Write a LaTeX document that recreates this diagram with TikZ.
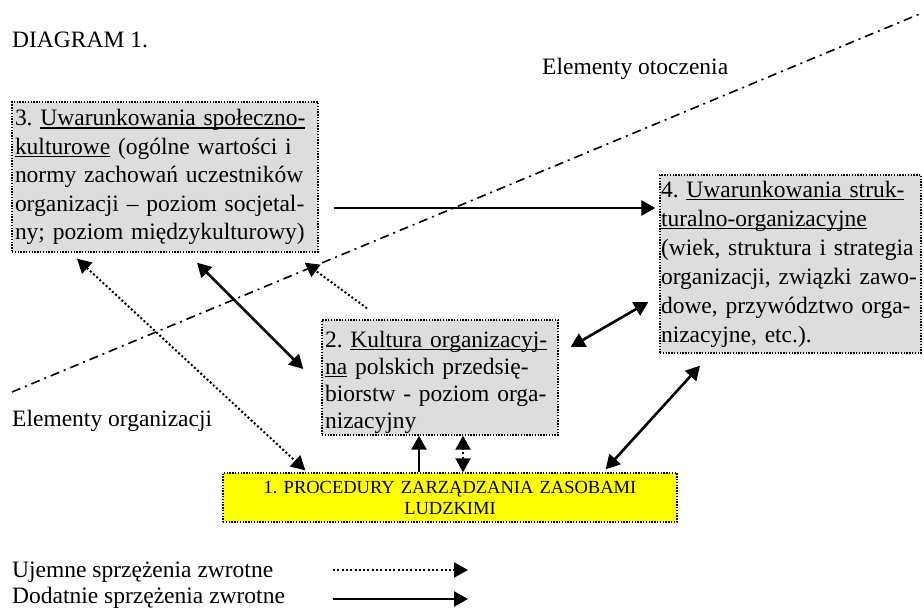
\documentclass[tikz,border=0pt]{standalone}
\usepackage{fontspec}
\setmainfont{Liberation Serif}
\usetikzlibrary{arrows.meta}
\definecolor{szary}{HTML}{DDDDDD}
\definecolor{zolty}{HTML}{FFFF00}
\newcommand{\podkr}[1]{\leavevmode\setbox0\hbox{#1}\rlap{\rule[-3pt]{\wd0}{1.3pt}}\box0\relax}
\frenchspacing
\begin{document}
\begin{tikzpicture}[x=1pt, y=-1pt,
	pole/.style={draw=black, line width=1.4pt, dash pattern=on 1.4pt off 1.4pt,
		fill=szary, inner xsep=3pt, inner ysep=0pt, align=left,
		font=\fontsize{23.5}{28.5}\selectfont},
	tekst/.style={anchor=base west, inner sep=0pt, font=\fontsize{23.5}{28}\selectfont},
	dodatnie/.style={line width=2.6pt, -{Triangle[length=14pt, width=15pt]}},
	dodatnie2/.style={line width=2.6pt, {Triangle[length=14pt, width=15pt]}-{Triangle[length=14pt, width=15pt]}},
	ujemne/.style={line width=2pt, dash pattern=on 2pt off 2.3pt, -{Triangle[length=14pt, width=15pt]}},
	ujemne2/.style={line width=2pt, dash pattern=on 2pt off 2.3pt, {Triangle[length=14pt, width=15pt]}-{Triangle[length=14pt, width=15pt]}}]
	\useasboundingbox (0,0) rectangle (924,609);
	% Granica otoczenie / organizacja
	\coordinate (gr1) at (12,392);
	\coordinate (gr2) at (922,13);
	\draw[line width=1.6pt, dash pattern=on 9pt off 5pt on 2pt off 5pt] (gr1) -- (gr2);
	% Napisy
	\node[tekst] (tytul) at (12,48) {DIAGRAM 1.};
	\node[tekst] (otocz) at (542,75) {Elementy otoczenia};
	\node[tekst] (organ) at (12,427) {Elementy organizacji};
	% Pola
	\node[pole, text width=300pt, minimum width=306pt, minimum height=150pt] (uwar3) at (165,177)
		{3. \podkr{Uwarunkowania społeczno-}\\\podkr{kulturowe} (ogólne wartości i\\normy zachowań uczestników\\organizacji – poziom socjetal-\\ny; poziom międzykulturowy)};
	\node[pole, inner xsep=1pt, text width=259pt, minimum width=261pt, minimum height=178pt,
		font=\fontsize{23.5}{29}\selectfont] (uwar4) at (790.5,264)
		{4. \podkr{Uwarunkowania struk-}\\\podkr{turalno-organizacyjne}\\(wiek, struktura i strategia\\organizacji, związki zawo-\\dowe, przywództwo orga-\\nizacyjne, etc.).};
	\node[pole, text width=230pt, minimum width=236pt, minimum height=115pt,
		font=\fontsize{23.5}{27}\selectfont] (kultura) at (440,377.5)
		{\rule{0pt}{26pt}2. \podkr{Kultura organizacyj-}\\\podkr{na} polskich przedsię-\\biorstw - poziom orga-\\nizacyjny};
	\node[pole, fill=zolty, text width=448pt, minimum width=454pt, minimum height=49pt,
		align=center, font=\fontsize{18.5}{21}\selectfont] (procedury) at (450,497.5)
		{1. PROCEDURY ZARZĄDZANIA ZASOBAMI\\LUDZKIMI};
	% Sprzezenia
	\draw[dodatnie] ([xshift=15pt, yshift=-31pt]uwar3.east) -- ([xshift=-4pt, yshift=56pt]uwar4.west);
	\draw[dodatnie2] ([xshift=32pt, yshift=-10pt]uwar3.south) -- ([xshift=-18pt, yshift=8.5pt]kultura.west);
	\draw[ujemne] ([xshift=-73pt, yshift=11pt]kultura.north) -- ([xshift=-14pt, yshift=-10pt]uwar3.south east);
	\draw[ujemne2] ([xshift=-88pt, yshift=-6pt]uwar3.south) -- ([xshift=83pt, yshift=2pt]procedury.north west);
	\draw[dodatnie] ([xshift=-31pt]procedury.north) -- ([xshift=-21pt]kultura.south);
	\draw[ujemne2] ([xshift=13pt]procedury.north) -- ([xshift=23pt]kultura.south);
	\draw[dodatnie2] ([xshift=12pt, yshift=30.5pt]kultura.east) -- ([xshift=-11pt, yshift=-38pt]uwar4.west);
	\draw[dodatnie2] ([xshift=-72pt, yshift=3pt]procedury.north east) -- ([xshift=-90.5pt, yshift=-12pt]uwar4.south);
	% Legenda
	\node[tekst] (legU) at (12,577) {Ujemne sprzężenia zwrotne};
	\node[tekst] (legD) at (12,603) {Dodatnie sprzężenia zwrotne};
	\coordinate (lu1) at (333,570);
	\coordinate (lu2) at (468,570);
	\coordinate (ld1) at (333,599);
	\coordinate (ld2) at (468,599);
	\draw[ujemne] (lu1) -- (lu2);
	\draw[dodatnie] (ld1) -- (ld2);
\end{tikzpicture}
\end{document}
